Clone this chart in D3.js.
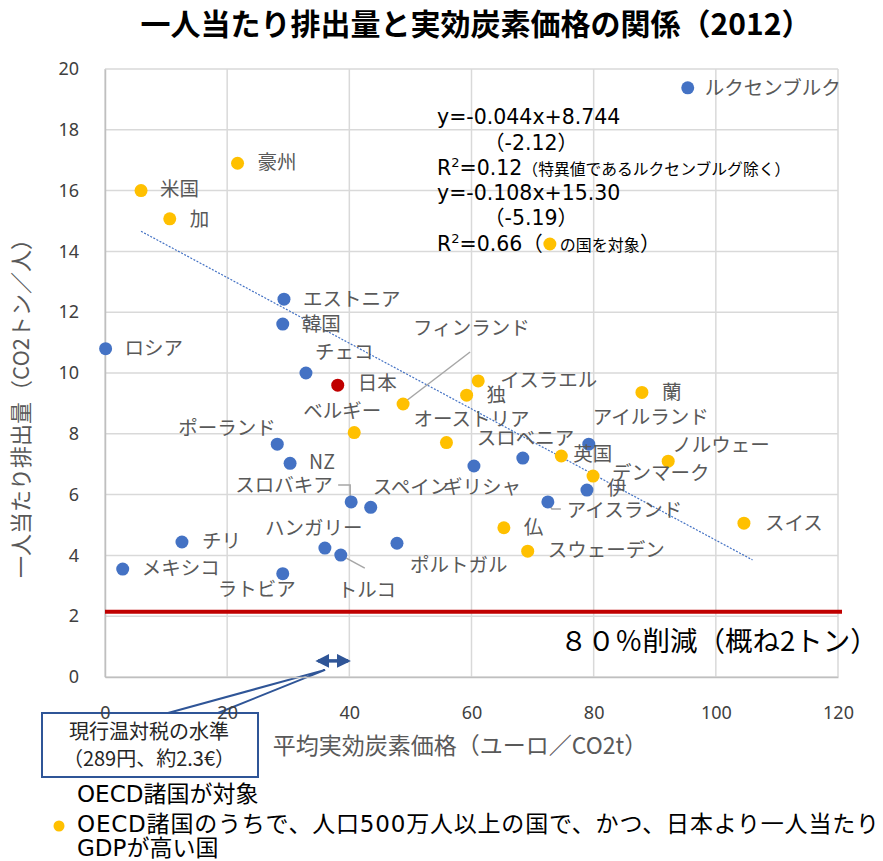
<!DOCTYPE html>
<html>
<head>
<meta charset="utf-8">
<script src="https://cdn.jsdelivr.net/npm/d3@7"></script>
<style>
  html, body { margin: 0; padding: 0; background: #fff; }
  svg { display: block; font-family: "Noto Sans CJK JP", "Noto Sans", sans-serif; }
</style>
</head>
<body>
<svg id="chart" width="883" height="861"></svg>
<script>
// Countries, average effective carbon price (EUR/tCO2) and CO2 per capita (t), 2012
const countries = ["ルクセンブルク","豪州","米国","加","エストニア","韓国","ロシア","チェコ","日本",
  "フィンランド","イスラエル","独","ベルギー","オーストリア","ポーランド","NZ","スロベニア","ギリシャ",
  "英国","アイルランド","蘭","ノルウェー","デンマーク","伊","アイスランド","スイス","仏","スウェーデン",
  "スロバキア","スペイン","ポルトガル","ハンガリー","トルコ","チリ","メキシコ","ラトビア"];
const carbonPrice = [95.4,21.7,5.9,10.6,29.3,29.1,0.1,32.9,38.1,
  48.8,61.1,59.2,40.8,55.9,28.2,30.3,68.4,60.4,
  74.7,79.2,87.9,92.2,79.9,78.9,72.5,104.6,65.3,69.2,
  40.3,43.5,47.8,36.0,38.6,12.6,2.9,29.1];
const emissions = [19.38,16.9,16.0,15.07,12.43,11.61,10.8,10.0,9.6,
  8.98,9.74,9.27,8.04,7.71,7.66,7.03,7.2,6.94,
  7.27,7.66,9.36,7.1,6.61,6.15,5.76,5.06,4.91,4.14,
  5.76,5.58,4.4,4.24,4.01,4.44,3.55,3.4];
// group: 0 = OECD, 1 = OECD, pop. >= 5M and GDP/capita above Japan, 2 = Japan
const group = [0,1,1,1,0,0,0,0,2,
  1,1,1,1,1,0,0,0,0,
  1,0,1,1,1,0,0,1,1,1,
  0,0,0,0,0,0,0,0];

const xTicks = [0,20,40,60,80,100,120];
const yTicks = [0,2,4,6,8,10,12,14,16,18,20];

// Fitted line for the yellow group: y = -0.108x + 15.30
const fitSlope = -0.108, fitIntercept = 15.30;
const fitRange = [5.9, 106];
// 80% reduction target (about 2 t per capita)
const targetLevel = 2.15;
// current global-warming tax level marker
const taxSpan = [34.9, 39.8];
const taxMarkY = 0.53;

const colors = ["#4472C4", "#FFC000", "#C00000"];
const LATIN = "'DejaVu Sans', 'Noto Sans CJK JP', sans-serif";

// label placement relative to each point (pixels)
const labelOffset = {
  "ルクセンブルク":[17,0],"豪州":[20,-1],"米国":[19,-1],"加":[20,0],"エストニア":[19,0],"韓国":[19,0],
  "ロシア":[19,-1],"チェコ":[9,-21],"日本":[20,-2],"フィンランド":[10,-76],"イスラエル":[22,-1],"独":[20,0],
  "ベルギー":[-51,-21],"オーストリア":[-33,-23],"ポーランド":[-99,-16],"NZ":[19,-1],"スロベニア":[-46,-20],
  "ギリシャ":[-31,21],"英国":[12,-2],"アイルランド":[4,-27],"蘭":[20,0],"ノルウェー":[4,-16],
  "デンマーク":[19,-3],"伊":[20,-2],"アイスランド":[19,8],"スイス":[21,0],"仏":[20,-1],"スウェーデン":[20,-1],
  "スロバキア":[-116,-17],"スペイン":[2,-20],"ポルトガル":[13,22],"ハンガリー":[-60,-20],"トルコ":[-3,35],
  "チリ":[20,-1],"メキシコ":[19,-1],"ラトビア":[-65,16]
};

const svg = d3.select("#chart");
const x = d3.scaleLinear().domain([0,120]).range([105,838]);
const y = d3.scaleLinear().domain([0,20]).range([677,69]);

// gridlines
svg.append("g").selectAll("line").data(yTicks).join("line")
  .attr("x1", x(0)).attr("x2", x(120))
  .attr("y1", d => y(d)).attr("y2", d => y(d))
  .attr("stroke", "#d9d9d9").attr("stroke-width", 1.5);
svg.append("g").selectAll("line").data(xTicks).join("line")
  .attr("x1", d => x(d)).attr("x2", d => x(d))
  .attr("y1", y(0)).attr("y2", y(20))
  .attr("stroke", "#d9d9d9").attr("stroke-width", 1.5);

// axes
const xAxis = svg.append("g").attr("transform", `translate(0,${y(0)})`)
  .call(d3.axisBottom(x).tickValues(xTicks).tickSize(0).tickPadding(29));
const yAxis = svg.append("g").attr("transform", `translate(${x(0)},0)`)
  .call(d3.axisLeft(y).tickValues(yTicks).tickSize(0).tickPadding(26));
[xAxis, yAxis].forEach(a => {
  a.attr("font-family", "'Noto Sans', sans-serif").attr("font-size", 18);
  a.select(".domain").attr("stroke", "#bfbfbf").attr("stroke-width", 1.5);
  a.selectAll("text").attr("fill", "#404040");
});

// regression line
svg.append("line")
  .attr("x1", x(fitRange[0])).attr("y1", y(fitSlope*fitRange[0] + fitIntercept))
  .attr("x2", x(fitRange[1])).attr("y2", y(fitSlope*fitRange[1] + fitIntercept))
  .attr("stroke", "#4472C4").attr("stroke-width", 1.2).attr("stroke-dasharray", "2,1.5");

// target line
svg.append("line")
  .attr("x1", x(0)).attr("x2", x(120) + 4)
  .attr("y1", y(targetLevel)).attr("y2", y(targetLevel))
  .attr("stroke", "#C00000").attr("stroke-width", 4);

const data = countries.map((c, i) => ({name: c, px: carbonPrice[i], em: emissions[i], g: group[i]}));

// leader lines
const leader = (pts) => svg.append("polyline")
  .attr("points", pts.map(p => p.join(",")).join(" "))
  .attr("fill", "none").attr("stroke", "#a6a6a6").attr("stroke-width", 1.5);
const byName = n => data.find(d => d.name === n);
{
  const f = byName("フィンランド");
  leader([[x(f.px)+3, y(f.em)-3], [x(f.px)+67, y(f.em)-52]]);
  const s = byName("スロバキア");
  leader([[x(s.px)-13, y(s.em)-17], [x(s.px)-1, y(s.em)-17], [x(s.px)-1, y(s.em)-6]]);
  const t = byName("トルコ");
  leader([[x(t.px), y(t.em)], [x(t.px)+24, y(t.em)+13]]);
  const ic = byName("アイスランド");
  leader([[x(ic.px)+1, y(ic.em)+2], [x(ic.px)+4, y(ic.em)+7], [x(ic.px)+13, y(ic.em)+7]]);
}

// points
svg.append("g").selectAll("circle").data(data).join("circle")
  .attr("cx", d => x(d.px)).attr("cy", d => y(d.em)).attr("r", 6.5)
  .attr("fill", d => colors[d.g]);

// country labels
svg.append("g").selectAll("text").data(data).join("text")
  .attr("x", d => x(d.px) + labelOffset[d.name][0])
  .attr("y", d => y(d.em) + labelOffset[d.name][1])
  .attr("dy", "0.35em")
  .attr("font-size", 19.5).attr("fill", "#595959")
  .text(d => d.name);

// title
svg.append("text").attr("x", 476).attr("y", 35).attr("text-anchor", "middle")
  .attr("font-size", 30).attr("font-weight", "bold").attr("fill", "#000")
  .text("一人当たり排出量と実効炭素価格の関係（2012）");

// axis titles
svg.append("text").attr("transform", "translate(29,403) rotate(-90)")
  .attr("text-anchor", "middle").attr("font-size", 22).attr("fill", "#595959")
  .text("一人当たり排出量（CO2トン／人）");
svg.append("text").attr("x", 460).attr("y", 754).attr("text-anchor", "middle")
  .attr("font-size", 23).attr("fill", "#595959")
  .text("平均実効炭素価格（ユーロ／CO2t）");

// regression statistics, written as consecutive runs of text
const eq = svg.append("g").attr("fill", "#000").attr("font-family", LATIN);
function runs(x0, yb, parts) {
  let cx = x0;
  const marks = [];
  parts.forEach(p => {
    if (p.gap !== undefined) { marks.push(cx); cx += p.gap; return; }
    const t = eq.append("text").attr("x", cx).attr("y", yb + (p.dy || 0))
      .attr("font-size", p.size || 20.5).text(p.t);
    if (p.cjk) t.attr("font-family", "'Noto Sans CJK JP', sans-serif");
    cx += t.node().getComputedTextLength();
  });
  return marks;
}
runs(437, 124, [{t: "y=-0.044x+8.744"}]);
runs(484, 150, [{t: "（", cjk: true}, {t: "-2.12"}, {t: "）", cjk: true}]);
runs(437, 175, [{t: "R"}, {t: "2", size: 13, dy: -8}, {t: "=0.12"},
  {t: "（特異値であるルクセンブルグ除く）", size: 15.8, cjk: true}]);
runs(437, 200, [{t: "y=-0.108x+15.30"}]);
runs(484, 225, [{t: "（", cjk: true}, {t: "-5.19"}, {t: "）", cjk: true}]);
const m = runs(437, 251, [{t: "R"}, {t: "2", size: 13, dy: -8}, {t: "=0.66"}, {t: "（", cjk: true},
  {gap: 17}, {t: "の国を対象", size: 16, cjk: true}, {t: "）", cjk: true}]);
svg.append("circle").attr("cx", m[0] + 7).attr("cy", 244).attr("r", 6.5).attr("fill", colors[1]);

// target label
svg.append("text").attr("x", 560).attr("y", 651).attr("font-size", 27.5).attr("fill", "#000")
  .text("８０％削減（概ね2トン）");

// tax marker: double-headed arrow
const defs = svg.append("defs");
defs.append("marker").attr("id", "ah").attr("viewBox", "0 0 10 10").attr("refX", 8).attr("refY", 5)
  .attr("markerWidth", 4).attr("markerHeight", 4).attr("orient", "auto-start-reverse")
  .append("path").attr("d", "M0,0 L10,5 L0,10 z").attr("fill", "#2F5597");
svg.append("line")
  .attr("x1", x(taxSpan[0])).attr("x2", x(taxSpan[1]))
  .attr("y1", y(taxMarkY)).attr("y2", y(taxMarkY))
  .attr("stroke", "#2F5597").attr("stroke-width", 3.5)
  .attr("marker-start", "url(#ah)").attr("marker-end", "url(#ah)");

// callout box
const tip = [x((taxSpan[0] + taxSpan[1]) / 2) - 8, y(taxMarkY) + 9];
svg.append("polyline").attr("points", `168,713 ${tip[0]},${tip[1]} 218,713`)
  .attr("fill", "none").attr("stroke", "#2F5597").attr("stroke-width", 2);
svg.append("rect").attr("x", 42).attr("y", 713).attr("width", 216).attr("height", 64)
  .attr("fill", "#fff").attr("stroke", "#2F5597").attr("stroke-width", 2);
svg.append("text").attr("x", 149).attr("y", 739).attr("text-anchor", "middle")
  .attr("font-size", 20).attr("fill", "#262626").text("現行温対税の水準");
svg.append("text").attr("x", 149).attr("y", 766).attr("text-anchor", "middle")
  .attr("font-size", 20).attr("fill", "#262626").text("（289円、約2.3€）");

// x tick labels sit above the callout box
xAxis.raise();

// legend notes
const notes = svg.append("g").attr("font-size", 23).attr("fill", "#000")
  .attr("font-family", LATIN);
notes.append("text").attr("x", 77).attr("y", 802).text("OECD諸国が対象");
notes.append("text").attr("x", 77).attr("y", 832)
  .attr("textLength", 802).attr("lengthAdjust", "spacing")
  .text("OECD諸国のうちで、人口500万人以上の国で、かつ、日本より一人当たり");
notes.append("text").attr("x", 77).attr("y", 856).text("GDPが高い国");
svg.append("circle").attr("cx", 59).attr("cy", 826).attr("r", 5.5).attr("fill", colors[1]);
</script>
</body>
</html>
